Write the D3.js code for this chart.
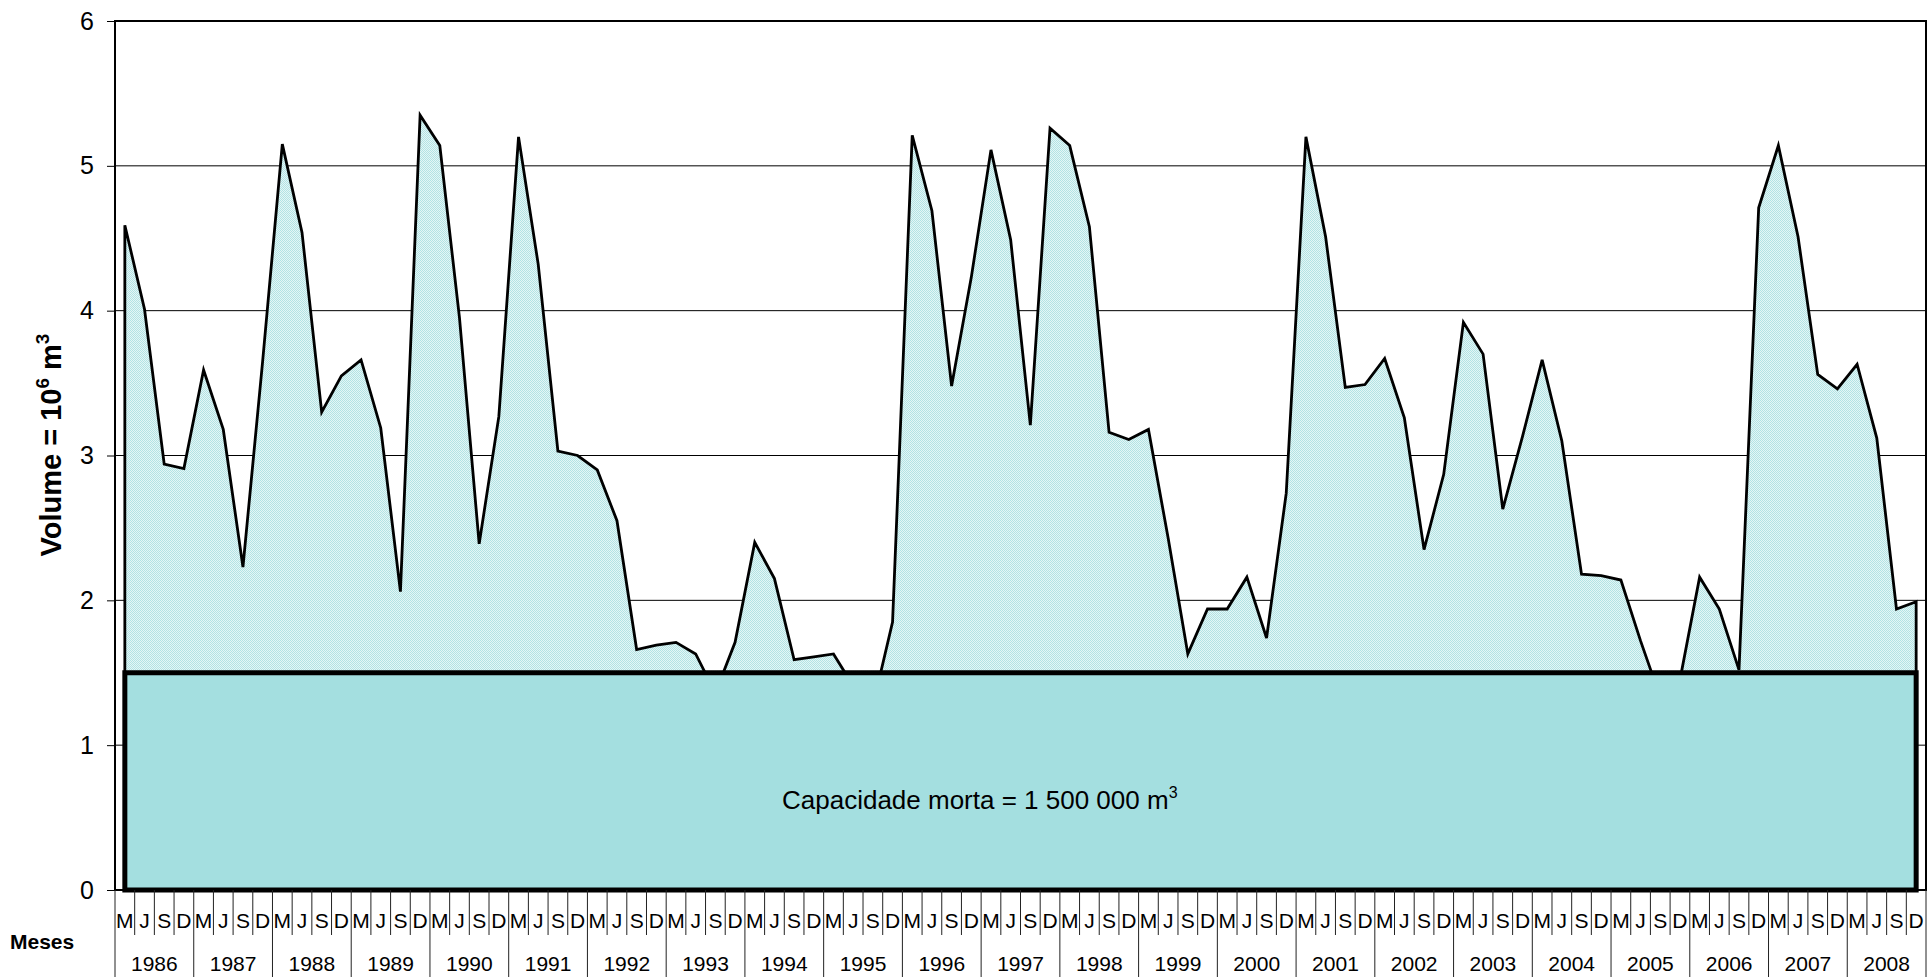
<!DOCTYPE html>
<html lang="pt">
<head>
    <meta charset="UTF-8">
    <title>Volume armazenado</title>
    <script src="https://d3js.org/d3.v7.min.js"></script>
    <style>
        body { margin: 0; background: #fff; }
        svg { display: block; font-family: "Liberation Sans", Arial, sans-serif; }
    </style>
</head>
<body>
    <svg width="1928" height="977"></svg>
    <script>
        // data, one value per quarter (M, J, S, D) in 10^6 m3
        var years = ['1986', '1987', '1988', '1989', '1990', '1991', '1992', '1993',
                     '1994', '1995', '1996', '1997', '1998', '1999', '2000', '2001',
                     '2002', '2003', '2004', '2005', '2006', '2007', '2008'];
        var quarters = ['M', 'J', 'S', 'D'];
        var volume = [
            4.59, 4.01, 2.94, 2.91,   // 1986
            3.59, 3.18, 2.23, 3.65,   // 1987
            5.15, 4.54, 3.30, 3.55,   // 1988
            3.66, 3.19, 2.06, 5.35,   // 1989
            5.14, 3.95, 2.39, 3.27,   // 1990
            5.20, 4.32, 3.03, 3.00,   // 1991
            2.90, 2.55, 1.66, 1.69,   // 1992
            1.71, 1.63, 1.36, 1.71,   // 1993
            2.40, 2.15, 1.59, 1.61,   // 1994
            1.63, 1.41, 1.27, 1.85,   // 1995
            5.21, 4.69, 3.48, 4.23,   // 1996
            5.11, 4.49, 3.21, 5.26,   // 1997
            5.14, 4.58, 3.16, 3.11,   // 1998
            3.18, 2.43, 1.63, 1.94,   // 1999
            1.94, 2.16, 1.74, 2.74,   // 2000
            5.20, 4.51, 3.47, 3.49,   // 2001
            3.67, 3.26, 2.35, 2.87,   // 2002
            3.92, 3.70, 2.63, 3.13,   // 2003
            3.66, 3.10, 2.18, 2.17,   // 2004
            2.14, 1.72, 1.33, 1.45,   // 2005
            2.16, 1.94, 1.52, 4.71,   // 2006
            5.14, 4.51, 3.56, 3.46,   // 2007
            3.63, 3.12, 1.94, 1.99    // 2008
        ];
        var yTicks = [0, 1, 2, 3, 4, 5, 6];
        var deadCapacity = 1.5;

        var categories = [];
        years.forEach(y => quarters.forEach(q => categories.push(y + ' ' + q)));

        // plot box (note: "top" is taken by window.top)
        var plotL = 115, plotR = 1926, plotT = 21, plotB = 890;
        var svg = d3.select('svg');

        var x = d3.scaleBand().domain(categories).range([plotL, plotR]);
        var y = d3.scaleLinear().domain([0, 6]).range([plotB, plotT]);
        var cx = (d, i) => x(categories[i]) + x.bandwidth() / 2;

        var defs = svg.append('defs');
        var pat = defs.append('pattern').attr('id', 'dots')
            .attr('width', 2).attr('height', 2)
            .attr('patternUnits', 'userSpaceOnUse');
        pat.append('rect').attr('width', 2).attr('height', 2).attr('fill', '#e4f6f6');
        pat.append('rect').attr('width', 1).attr('height', 1).attr('fill', '#b2e3e4');
        pat.append('rect').attr('x', 1).attr('y', 1).attr('width', 1).attr('height', 1).attr('fill', '#b2e3e4');

        // gridlines
        svg.append('g').selectAll('line').data(yTicks.slice(1, -1))
            .enter().append('line')
            .attr('x1', plotL).attr('x2', plotR)
            .attr('y1', d => y(d)).attr('y2', d => y(d))
            .attr('stroke', '#000').attr('stroke-width', 1);

        // volume area
        var area = d3.area().x(cx).y0(y(0)).y1(d => y(d));
        svg.append('path').datum(volume)
            .attr('d', area)
            .attr('fill', 'url(#dots)')
            .attr('stroke', '#000').attr('stroke-width', 2.8)
            .attr('stroke-linejoin', 'miter');

        // dead capacity block
        var x0 = cx(null, 0), x1 = cx(null, volume.length - 1);
        svg.append('rect')
            .attr('x', x0).attr('y', y(deadCapacity))
            .attr('width', x1 - x0).attr('height', y(0) - y(deadCapacity))
            .attr('fill', '#a4dfe0')
            .attr('stroke', '#000').attr('stroke-width', 5);

        var note = svg.append('text')
            .attr('x', 782).attr('y', 809)
            .style('font-size', '26px').attr('fill', '#000');
        note.append('tspan').text('Capacidade morta = 1 500 000 m');
        note.append('tspan').attr('dy', -11).style('font-size', '16px').text('3');

        // plot frame
        svg.append('rect')
            .attr('x', plotL).attr('y', plotT)
            .attr('width', plotR - plotL).attr('height', plotB - plotT)
            .attr('fill', 'none').attr('stroke', '#000').attr('stroke-width', 2);

        // y axis
        var yAxis = svg.append('g')
            .attr('transform', 'translate(' + plotL + ',0)')
            .call(d3.axisLeft(y).tickValues(yTicks).tickSize(8).tickPadding(13).tickFormat(d3.format('d')));
        yAxis.select('.domain').remove();
        yAxis.selectAll('line').attr('stroke', '#000');
        yAxis.selectAll('text').style('font-size', '25px').attr('fill', '#000')
            .style('font-family', '"Liberation Sans", Arial, sans-serif');

        var title = svg.append('text')
            .attr('transform', 'translate(61,445) rotate(-90)')
            .attr('text-anchor', 'middle')
            .style('font-size', '29px').style('font-weight', 'bold');
        title.append('tspan').text('Volume = 10');
        title.append('tspan').attr('dy', -12).style('font-size', '19px').text('6');
        title.append('tspan').attr('dy', 12).text(' m');
        title.append('tspan').attr('dy', -12).style('font-size', '19px').text('3');

        // category axis: quarter cells and year cells
        var bw = x.bandwidth();
        var edges = d3.range(categories.length + 1);
        svg.append('g').selectAll('line').data(edges)
            .enter().append('line')
            .attr('x1', k => plotL + k * bw).attr('x2', k => plotL + k * bw)
            .attr('y1', plotB)
            .attr('y2', k => k % 4 === 0 ? 977 : 935)
            .attr('stroke', '#222').attr('stroke-width', 1);

        svg.append('g').selectAll('text').data(categories)
            .enter().append('text')
            .attr('x', (d, i) => cx(d, i))
            .attr('y', 928)
            .attr('text-anchor', 'middle')
            .style('font-size', '21px')
            .text((d, i) => quarters[i % 4]);

        svg.append('g').selectAll('text').data(years)
            .enter().append('text')
            .attr('x', (d, i) => (cx(null, i * 4) + cx(null, i * 4 + 3)) / 2)
            .attr('y', 971)
            .attr('text-anchor', 'middle')
            .style('font-size', '21px')
            .text(d => d);

        svg.append('text')
            .attr('x', 10).attr('y', 949)
            .style('font-size', '21px').style('font-weight', 'bold')
            .text('Meses');
    </script>
</body>
</html>
